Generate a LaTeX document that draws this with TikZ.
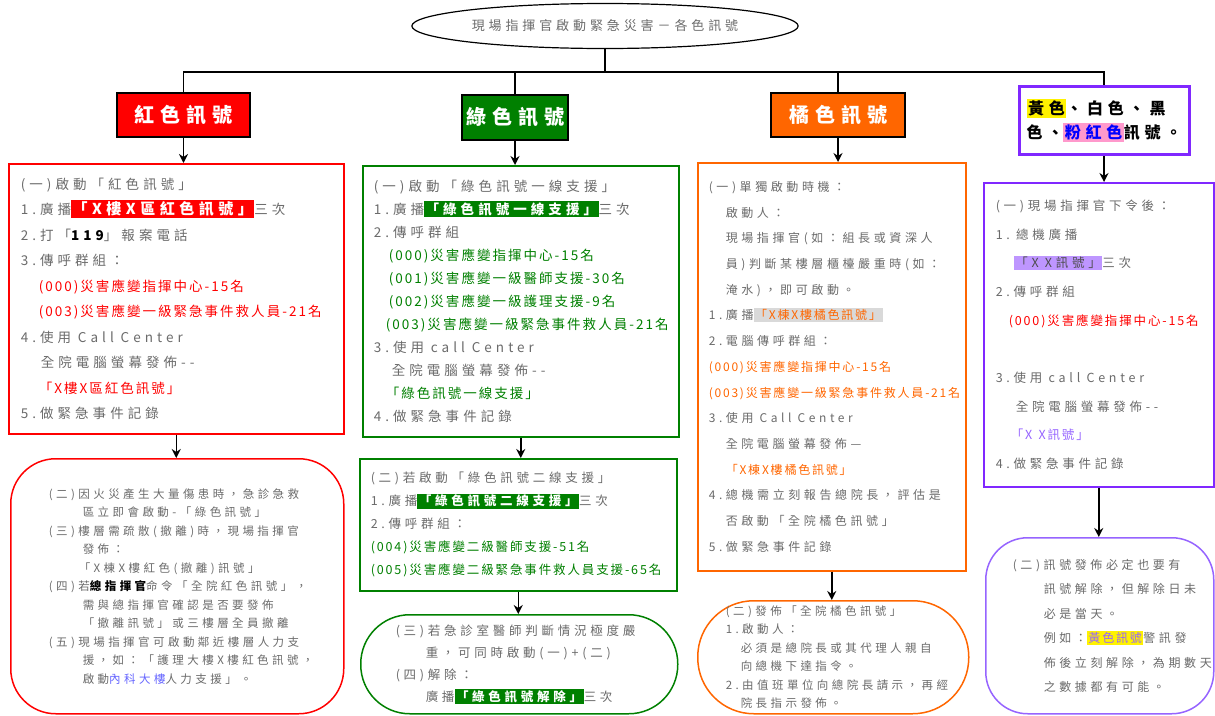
\documentclass[tikz,border=0pt]{standalone}
\usepackage{fontspec}
\setmainfont{Noto Sans CJK TC}[LetterSpace=30]
\newfontfamily\tight{Noto Sans CJK TC}[LetterSpace=15]
\usetikzlibrary{arrows.meta,positioning,shapes.geometric}

\definecolor{txtgray}{gray}{0.42}
\definecolor{sigred}{RGB}{255,0,0}
\definecolor{siggreen}{RGB}{0,128,0}
\definecolor{sigorange}{RGB}{255,102,0}
\definecolor{sigpurple}{RGB}{128,40,255}
\definecolor{lilac}{RGB}{150,100,255}
\definecolor{pinkbg}{RGB}{255,153,204}
\definecolor{lavender}{RGB}{190,150,255}
\definecolor{greybg}{gray}{0.85}

\newcommand{\hilite}[2]{{\setlength{\fboxsep}{1.5pt}\colorbox{#1}{#2}}}
\newcommand{\coltext}[2]{\mbox{\textcolor{#1}{\tight #2}}}
\newcommand{\gap}{\hspace{0.5em}}

\tikzstyle{title} = [ellipse, draw=black, line width=1.2pt, minimum width=354, minimum height=45, text=txtgray, font=\fontsize{13}{16}\selectfont]
\tikzstyle{head} = [rectangle, draw=black, line width=1.5pt, text=white, minimum height=44, font=\fontsize{20}{24}\selectfont\bfseries]
\tikzstyle{panel} = [rectangle, anchor=north west, line width=1.5pt, align=left, inner ysep=0pt, text=txtgray, fill=white]
\tikzstyle{arrow} = [line width=1.5pt,-{Stealth[length=9pt,width=9pt]}]
\tikzstyle{bus} = [line width=1.5pt]

\begin{document}
\begin{tikzpicture}[x=1pt,y=-1pt]
\useasboundingbox (0,0) rectangle (1215,715);

\node (title) [title] at (605,26) {現場指揮官啟動緊急災害－各色訊號};

\node (redh) [head, fill=sigred, minimum width=133] at (183.5,115) {紅色訊號};
\node (grnh) [head, fill=siggreen, minimum width=106, minimum height=45, inner xsep=1pt] at (515,117.5) {綠色訊號};
\node (orah) [head, fill=sigorange, minimum width=134] at (838,115) {橘色訊號};
\node (purh) [rectangle, draw=sigpurple, line width=3pt, minimum width=170, minimum height=68, align=left,
  font=\fontsize{16}{24}\selectfont\bfseries] at (1104,120.5)
  {\hilite{yellow}{黃色}、白色、黑\\色、\hilite{pinkbg}{\textcolor{blue}{粉紅色}}訊號。};

% red column
\node (red1) [panel, draw=sigred, minimum width=335, minimum height=270, text width=311pt, inner xsep=12pt,
  font=\fontsize{13.5}{25.5}\selectfont] at (8,163) {%
(一)啟動「紅色訊號」\\
1.廣播\hilite{sigred}{\textcolor{white}{\fontsize{15}{18}\selectfont\bfseries「X樓X區紅色訊號」}}三次\\
2.打「\textcolor{black}{\bfseries 119}」報案電話\\
3.傳呼群組：\\
\hspace*{18pt}\coltext{sigred}{(000)災害應變指揮中心-15名}\\
\hspace*{18pt}\coltext{sigred}{(003)災害應變一級緊急事件救人員-21名}\\
4.使用\gap Call\gap Center\\
\hspace*{20pt}全院電腦螢幕發佈-{}-\\
\hspace*{18pt}\coltext{sigred}{「X樓X區紅色訊號」}\\
5.做緊急事件記錄};
\node (red2) [panel, draw=sigred, rounded corners=45pt, minimum width=333, minimum height=255, text width=257pt, inner xsep=38pt,
  font=\fontsize{11.5}{18.5}\selectfont] at (10,458) {%
(二)因火災產生大量傷患時，急診急救\\
\hspace*{34pt}區立即會啟動-「綠色訊號」\\
(三)樓層需疏散(撤離)時，現場指揮官\\
\hspace*{34pt}發佈：\\
\hspace*{30pt}「X棟X樓紅色(撤離)訊號」\\
(四)若\textcolor{black}{\bfseries 總指揮官}命令「全院紅色訊號」，\\
\hspace*{34pt}需與總指揮官確認是否要發佈\\
\hspace*{34pt}「撤離訊號」或三樓層全員撤離\\
(五)現場指揮官可啟動鄰近樓層人力支\\
\hspace*{34pt}援，如：「護理大樓X樓紅色訊號，\\
\hspace*{34pt}啟動\textcolor{blue!60}{內科大樓}人力支援」。};

% green column
\node (grn1) [panel, draw=siggreen, minimum width=316, minimum height=271, text width=294pt, inner xsep=11pt,
  font=\fontsize{13.5}{23}\selectfont] at (362,165) {%
(一)啟動「綠色訊號一線支援」\\
1.廣播\hilite{siggreen}{\textcolor{white}{\bfseries「綠色訊號一線支援」}}三次\\
2.傳呼群組\\
\hspace*{15pt}\coltext{siggreen}{(000)災害應變指揮中心-15名}\\
\hspace*{15pt}\coltext{siggreen}{(001)災害應變一級醫師支援-30名}\\
\hspace*{15pt}\coltext{siggreen}{(002)災害應變一級護理支援-9名}\\
\hspace*{12pt}\coltext{siggreen}{(003)災害應變一級緊急事件救人員-21名}\\
3.使用\gap call\gap Center\\
\hspace*{18pt}全院電腦螢幕發佈-{}-\\
\hspace*{12pt}\coltext{siggreen}{「綠色訊號一線支援」}\\
4.做緊急事件記錄};
\node (grn2) [panel, draw=siggreen, minimum width=317, minimum height=132, text width=295pt, inner xsep=11pt,
  font=\fontsize{12.5}{23}\selectfont] at (359,458) {%
(二)若啟動「綠色訊號二線支援」\\
1.廣播\hilite{siggreen}{\textcolor{white}{\bfseries「綠色訊號二線支援」}}三次\\
2.傳呼群組：\\
\coltext{siggreen}{(004)災害應變二級醫師支援-51名}\\
\coltext{siggreen}{(005)災害應變二級緊急事件救人員支援-65名}};
\node (grn3) [panel, draw=siggreen, rounded corners=49pt, minimum width=317, minimum height=99, text width=247pt, inner xsep=35pt,
  font=\fontsize{12.5}{22}\selectfont] at (360,614) {%
(三)若急診室醫師判斷情況極度嚴\\
\hspace*{30pt}重，可同時啟動(一)+(二)\\
(四)解除：\\
\hspace*{30pt}廣播\hilite{siggreen}{\textcolor{white}{\bfseries「綠色訊號解除」}}三次};

% orange column
\node (ora1) [panel, draw=sigorange, minimum width=268, minimum height=408, text width=246pt, inner xsep=11pt,
  font=\fontsize{12}{25.7}\selectfont] at (697,162) {%
(一)單獨啟動時機：\\
\hspace*{17pt}啟動人：\\
\hspace*{17pt}現場指揮官(如：組長或資深人\\
\hspace*{17pt}員)判斷某樓層櫃檯嚴重時(如：\\
\hspace*{17pt}淹水)，即可啟動。\\
1.廣播\hilite{greybg}{\coltext{sigorange}{「X棟X樓橘色訊號」}}\\
2.電腦傳呼群組：\\
\coltext{sigorange}{(000)災害應變指揮中心-15名}\\
\coltext{sigorange}{(003)災害應變一級緊急事件救人員-21名}\\
3.使用\gap Call\gap Center\\
\hspace*{17pt}全院電腦螢幕發佈—\\
\hspace*{17pt}\coltext{sigorange}{「X棟X樓橘色訊號」}\\
4.總機需立刻報告總院長，評估是\\
\hspace*{17pt}否啟動「全院橘色訊號」\\
5.做緊急事件記錄};
\node (ora2) [panel, draw=sigorange, rounded corners=56pt, minimum width=271, minimum height=113, text width=215pt, inner xsep=28pt,
  font=\fontsize{11.5}{18.5}\selectfont] at (697,600) {%
(二)發佈「全院橘色訊號」\\
1.啟動人：\\
\hspace*{15pt}必須是總院長或其代理人親自\\
\hspace*{15pt}向總機下達指令。\\
2.由值班單位向總院長請示，再經\\
\hspace*{15pt}院長指示發佈。};

% purple column
\node (pur1) [panel, draw=sigpurple, minimum width=230, minimum height=304, text width=206pt, inner xsep=12pt,
  font=\fontsize{12.5}{28.7}\selectfont] at (983,182) {%
(一)現場指揮官下令後：\\
1.\gap 總機廣播\\
\hspace*{18pt}\hilite{lavender}{\textcolor{black!70}{「X\gap X訊號」}}三次\\
2.傳呼群組\\
\hspace*{13pt}\coltext{sigred}{(000)災害應變指揮中心-15名}\\
\mbox{}\\
3.使用\gap call\gap Center\\
\hspace*{20pt}全院電腦螢幕發佈-{}-\\
\hspace*{15pt}\coltext{lilac}{「X\gap X訊號」}\\
4.做緊急事件記錄};
\node (pur2) [panel, draw=lilac, rounded corners=42pt, minimum width=228, minimum height=176, text width=174pt, inner xsep=27pt,
  font=\fontsize{12}{24.5}\selectfont] at (985,537) {%
(二)訊號發佈必定也要有\\
\hspace*{31pt}訊號解除，但解除日未\\
\hspace*{31pt}必是當天。\\
\hspace*{31pt}例如：\hilite{yellow}{\coltext{lilac}{黃色訊號}}警訊發\\
\hspace*{31pt}佈後立刻解除，為期數天\\
\hspace*{31pt}之數據都有可能。};

% tree lines
\coordinate (split) at (605,72);
\draw [bus] (title.south) -- (split);
\draw [bus] (redh.north) |- (split) -| (purh.north);
\draw [bus] (grnh.north) -- (grnh.north |- split);
\draw [bus] (orah.north) -- (orah.north |- split);

\draw [arrow] (redh.south) -- (redh.south |- red1.north);
\draw [arrow] (red1.south) -- (red1.south |- red2.north);
\draw [arrow] (grnh.south) -- (grnh.south |- grn1.north);
\draw [arrow] (grn1.south) -- (grn1.south |- grn2.north);
\draw [arrow] (grn2.south) -- (grn2.south |- grn3.north);
\draw [arrow] (orah.south) -- (orah.south |- ora1.north);
\draw [arrow] (ora1.south) -- (ora1.south |- ora2.north);
\draw [arrow] (purh.south) -- (purh.south |- pur1.north);
\draw [arrow] (pur1.south) -- (pur1.south |- pur2.north);
\end{tikzpicture}
\end{document}
